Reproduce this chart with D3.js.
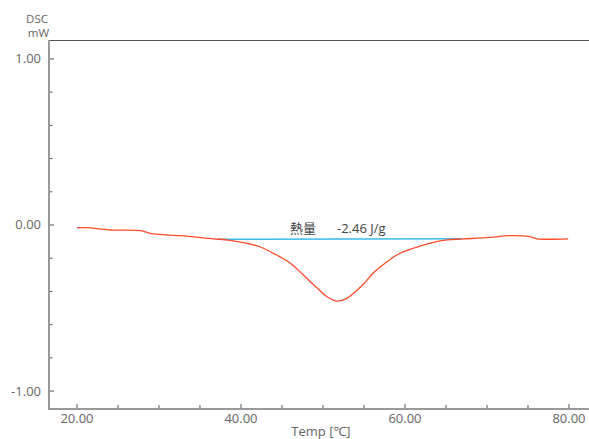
<!DOCTYPE html>
<html>
<head>
<meta charset="utf-8">
<script src="https://cdn.jsdelivr.net/npm/d3@7"></script>
<style>
  html, body { margin: 0; padding: 0; background: #fff; }
  svg { display: block; }
  text { font-family: "Open Sans", "Noto Sans", "Noto Sans CJK JP", sans-serif; }
</style>
</head>
<body>
<svg id="chart" width="589" height="439"></svg>
<script>
// ---- Data ----
const temps = [20.0, 21.2, 24.0, 27.7, 29.3, 32.6, 36.6, 38.7, 42.3, 43.9, 46.0, 47.6, 49.3, 50.5, 51.7, 52.9, 54.9, 56.1, 57.8, 59.4, 61.0, 63.0, 65.1, 67.1, 70.4, 72.8, 75.2, 76.1, 79.9];
const dsc   = [-0.016, -0.016, -0.030, -0.034, -0.054, -0.064, -0.083, -0.092, -0.131, -0.169, -0.229, -0.301, -0.380, -0.432, -0.458, -0.442, -0.358, -0.291, -0.221, -0.170, -0.140, -0.110, -0.090, -0.084, -0.074, -0.064, -0.070, -0.083, -0.083];
const baselineT = [37.1, 66.95];
const baselineV = [-0.086, -0.083];
const xTickLabels = [20, 40, 60, 80];
const yTickLabels = [1, 0, -1];
const annotationLabel = "熱量";
const annotationValue = "-2.46 J/g";
const yUnitLines = ["DSC", "mW"];
const xTitle = "Temp [℃]";

// ---- Layout ----
const svg = d3.select("#chart");
const pLeft = 49, pTop = 40, pRight = 589, pBottom = 409;

const x = d3.scaleLinear().domain([16.59, 82.44]).range([pLeft, pRight]);
const y = d3.scaleLinear().domain([-1.108, 1.114]).range([pBottom, pTop]);

const axisColor = "#9a9a9a";
const textColor = "#666";

// top border
svg.append("line").attr("x1", pLeft).attr("x2", pRight).attr("y1", pTop + 0.5).attr("y2", pTop + 0.5)
  .attr("stroke", "#555").attr("stroke-width", 1);

// x ticks (every 5, inward)
const xMinor = d3.range(20, 81, 5);
svg.append("g").selectAll("line").data(xMinor).join("line")
  .attr("x1", d => x(d)).attr("x2", d => x(d))
  .attr("y1", pBottom).attr("y2", d => pBottom - (d % 20 === 0 ? 5 : 4))
  .attr("stroke", "#555").attr("stroke-width", 1);

// y ticks (every 0.2, inward)
const yMinor = d3.range(-1.0, 1.01, 0.2).map(v => Math.round(v * 10) / 10);
svg.append("g").selectAll("line").data(yMinor).join("line")
  .attr("x1", pLeft).attr("x2", d => pLeft + (Math.abs(d % 1) < 1e-9 ? 5 : 3.5))
  .attr("y1", d => y(d)).attr("y2", d => y(d))
  .attr("stroke", "#555").attr("stroke-width", 1);

// axes lines
svg.append("line").attr("x1", pLeft).attr("x2", pLeft).attr("y1", pTop).attr("y2", pBottom + 1)
  .attr("stroke", axisColor).attr("stroke-width", 2);
svg.append("line").attr("x1", pLeft).attr("x2", pRight).attr("y1", pBottom).attr("y2", pBottom)
  .attr("stroke", axisColor).attr("stroke-width", 2);

// x tick labels
svg.append("g").selectAll("text").data(xTickLabels).join("text")
  .attr("x", d => x(d)).attr("y", 423)
  .attr("text-anchor", "middle").attr("font-size", 13).attr("fill", textColor)
  .text(d => d.toFixed(2));

// y tick labels
svg.append("g").selectAll("text").data(yTickLabels).join("text")
  .attr("x", 41).attr("y", d => y(d) + 4.5)
  .attr("text-anchor", "end").attr("font-size", 13).attr("fill", textColor)
  .text(d => d.toFixed(2));

// unit label
svg.append("text").attr("x", 48).attr("y", 22.5).attr("text-anchor", "end")
  .attr("font-size", 11.5).attr("fill", textColor).text(yUnitLines[0]);
svg.append("text").attr("x", 49).attr("y", 37).attr("text-anchor", "end")
  .attr("font-size", 11.5).attr("fill", textColor).text(yUnitLines[1]);

// x title
svg.append("text").attr("x", 321).attr("y", 436).attr("text-anchor", "middle")
  .attr("font-size", 13).attr("fill", textColor).text(xTitle);

// baseline
const bl = baselineT.map((t, i) => [t, baselineV[i]]);
svg.append("path").datum(bl)
  .attr("d", d3.line().x(d => x(d[0])).y(d => y(d[1])))
  .attr("fill", "none").attr("stroke", "#3bbbe8").attr("stroke-width", 1.5);

// curve
const pts = temps.map((t, i) => [t, dsc[i]]);
svg.append("path").datum(pts)
  .attr("d", d3.line().x(d => x(d[0])).y(d => y(d[1])).curve(d3.curveCatmullRom.alpha(0.5)))
  .attr("fill", "none").attr("stroke", "#ff4a2a").attr("stroke-width", 1.3);

// annotation
svg.append("text").attr("x", 290).attr("y", 233)
  .attr("font-size", 13).attr("fill", "#444")
  .attr("font-family", "'Noto Sans CJK JP', sans-serif").text(annotationLabel);
svg.append("text").attr("x", 337).attr("y", 233)
  .attr("font-size", 13).attr("fill", "#444").text(annotationValue);
</script>
</body>
</html>
